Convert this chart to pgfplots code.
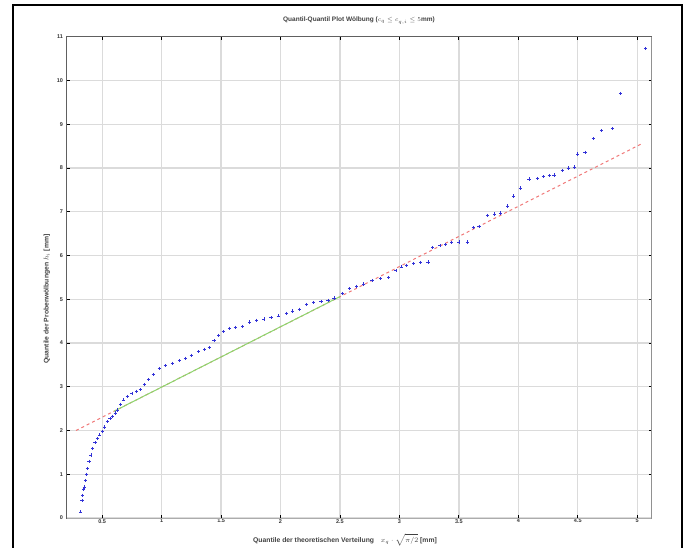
\documentclass[border=0pt]{standalone}
\usepackage{fontspec}
\setmainfont{Liberation Sans}
\usepackage{pgfplots}
\pgfplotsset{compat=1.18}
\definecolor{qblue}{RGB}{50,50,215}
\definecolor{qred}{RGB}{240,120,120}
\definecolor{qgreen}{RGB}{140,215,110}
\begin{document}
\begin{tikzpicture}[x=1pt,y=1pt]
\useasboundingbox (0,0) rectangle (688,547);
\draw[black, line width=1.2pt] (13,-2) -- (13,542) -- (682,542) -- (682,-2);
\begin{axis}[at={(66.5pt,29pt)}, anchor=south west, scale only axis,
  width=585pt, height=481.3pt,
  xmin=0.2, xmax=5.12, ymin=0, ymax=11,
  xtick={0.5,1,1.5,2,2.5,3,3.5,4,4.5,5},
  xticklabels={0.5,1,1.5,2,2.5,3,3.5,4,4.5,5},
  ytick={0,1,2,3,4,5,6,7,8,9,10,11},
  grid=major, major grid style={gray!28, line width=1.3pt},
  axis line style={gray!75!black, line width=1pt},
  tick align=inside, tick style={black, line width=0.8pt}, major tick length=3pt,
  ticklabel style={font=\fontsize{5.5}{6}\selectfont\bfseries, text=black!80},
  xticklabel style={inner sep=1pt, yshift=0pt},
  /pgf/number format/assume math mode=true,
  title={Quantil-Quantil Plot Wölbung ($c_{q} \le c_{q,i} \le 5$mm)},
  title style={font=\fontsize{6.5}{7}\selectfont\bfseries, text=black!75, at={(0.5,1)}, anchor=south, yshift=3pt},
  xlabel={Quantile der theoretischen Verteilung\quad $x_q \cdot \sqrt{\pi/2}$ [mm]},
  xlabel style={font=\fontsize{6.8}{7}\selectfont\bfseries, text=black!75, inner sep=0.5pt, at={(axis description cs:0.5,0)}, anchor=center, yshift=-22pt, xshift=-14pt},
  ylabel={Quantile der Probenwölbungen $h_i$ [mm]},
  ylabel style={font=\fontsize{6.8}{7}\selectfont\bfseries, text=black!75, at={(ticklabel cs:0.455)}},
]
\addplot[qred, dashed, line width=1pt] coordinates {(0.28,2.0) (5.05,8.57)};
\addplot[qgreen, line width=1pt] coordinates {(0.6,2.44) (2.5,5.06)};
\addplot[only marks, mark=+, mark size=1.6pt, qblue, mark options={line width=0.7pt}] table {
x y
0.32 0.14
0.33 0.40
0.335 0.52
0.345 0.65
0.35 0.71
0.36 0.85
0.37 1.0
0.377 1.13
0.39 1.3
0.405 1.44
0.42 1.59
0.44 1.72
0.46 1.82
0.48 1.90
0.50 1.97
0.52 2.08
0.545 2.2
0.565 2.27
0.586 2.32
0.61 2.40
0.628 2.47
0.655 2.60
0.68 2.70
0.71 2.78
0.75 2.85
0.79 2.90
0.82 2.93
0.855 3.05
0.89 3.16
0.93 3.28
0.98 3.42
1.03 3.48
1.09 3.54
1.15 3.60
1.2 3.65
1.25 3.72
1.31 3.80
1.36 3.86
1.40 3.90
1.44 4.05
1.48 4.18
1.52 4.26
1.57 4.34
1.62 4.36
1.68 4.38
1.74 4.48
1.80 4.52
1.86 4.55
1.92 4.58
1.98 4.62
2.05 4.68
2.10 4.73
2.16 4.77
2.22 4.88
2.28 4.92
2.34 4.95
2.40 4.98
2.45 5.03
2.52 5.13
2.58 5.24
2.64 5.30
2.70 5.35
2.77 5.43
2.84 5.47
2.91 5.50
2.97 5.66
3.02 5.74
3.06 5.78
3.12 5.82
3.18 5.84
3.24 5.85
3.28 6.18
3.34 6.22
3.39 6.25
3.44 6.30
3.50 6.31
3.57 6.31
3.62 6.64
3.67 6.66
3.74 6.92
3.80 6.95
3.85 6.97
3.91 7.13
3.96 7.36
4.02 7.54
4.09 7.75
4.16 7.76
4.21 7.80
4.26 7.82
4.30 7.84
4.37 7.94
4.42 8.00
4.47 8.02
4.50 8.32
4.56 8.36
4.63 8.67
4.70 8.85
4.79 8.90
4.86 9.70
5.07 10.73
};
\draw[gray!65, line width=3.5pt] ([xshift=1.5pt]rel axis cs:1,1) -- ([xshift=1.5pt,yshift=-1.5pt]rel axis cs:1,0) -- ([yshift=-1.5pt]rel axis cs:0,0);
\end{axis}
\end{tikzpicture}
\end{document}
